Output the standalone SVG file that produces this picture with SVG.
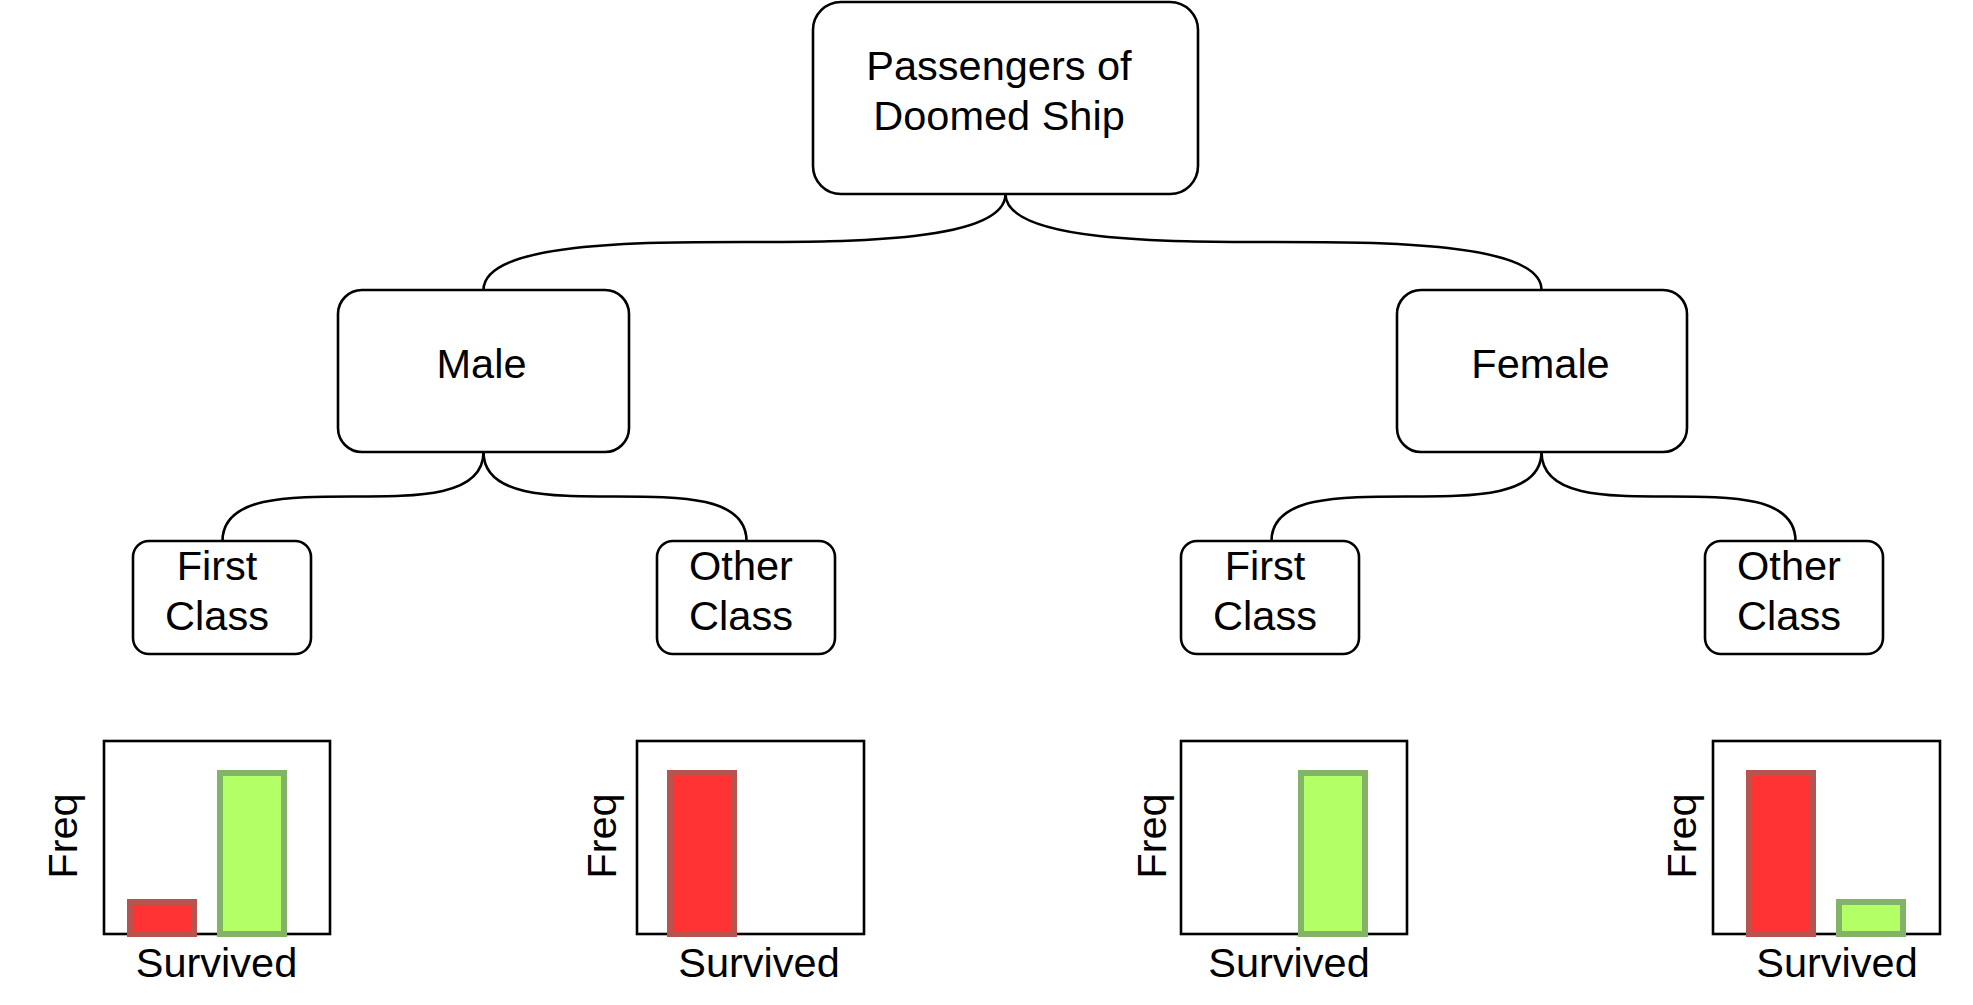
<svg xmlns="http://www.w3.org/2000/svg" width="1973" height="1005" viewBox="0 0 1973 1005">
<style>
.node{fill:#fff;stroke:#000;stroke-width:2.6}
.lbl{font-family:"Liberation Sans",Arial,Helvetica,sans-serif;font-size:41.5px;fill:#000;text-anchor:middle}
.edge{fill:none;stroke:#000;stroke-width:2.6}
.chart{fill:#fff;stroke:#000;stroke-width:2.6}
.red{fill:#FF3333;stroke:#B85450;stroke-width:6}
.green{fill:#B3FF66;stroke:#82B366;stroke-width:6}
</style>
<rect width="1973" height="1005" fill="#fff"/>
<g id="connectors">
<path class="edge" d="M1005.5,194 C1005.5,242 849,242 744.5,242 C640,242 483.5,242 483.5,290"/>
<path class="edge" d="M1005.5,194 C1005.5,242 1166,242 1273.5,242 C1381,242 1541.5,242 1541.5,290"/>
<path class="edge" d="M483.5,452 C483.5,496.5 418.25,496.5 353,496.5 C287.75,496.5 222.5,496.5 222.5,541"/>
<path class="edge" d="M483.5,452 C483.5,496.5 549.25,496.5 615,496.5 C680.75,496.5 746.5,496.5 746.5,541"/>
<path class="edge" d="M1541.5,452 C1541.5,496.5 1474,496.5 1406.5,496.5 C1339,496.5 1271.5,496.5 1271.5,541"/>
<path class="edge" d="M1541.5,452 C1541.5,496.5 1605,496.5 1668.5,496.5 C1732,496.5 1795.5,496.5 1795.5,541"/>
</g>
<g id="root">
<rect class="node" x="813" y="2" width="385" height="192" rx="28"/>
<text class="lbl" x="999" y="80">Passengers of</text>
<text class="lbl" x="999" y="130">Doomed Ship</text>
</g>
<g id="male">
<rect class="node" x="338" y="290" width="291" height="162" rx="24"/>
<text class="lbl" x="481.5" y="378">Male</text>
</g>
<g id="female">
<rect class="node" x="1397" y="290" width="290" height="162" rx="24"/>
<text class="lbl" x="1540.5" y="378">Female</text>
</g>
<g id="male-first">
<rect class="node" x="133" y="541" width="178" height="113" rx="16"/>
<text class="lbl" x="217" y="580">First</text>
<text class="lbl" x="217" y="630">Class</text>
</g>
<g id="male-other">
<rect class="node" x="657" y="541" width="178" height="113" rx="16"/>
<text class="lbl" x="741" y="580">Other</text>
<text class="lbl" x="741" y="630">Class</text>
</g>
<g id="female-first">
<rect class="node" x="1181" y="541" width="178" height="113" rx="16"/>
<text class="lbl" x="1265" y="580">First</text>
<text class="lbl" x="1265" y="630">Class</text>
</g>
<g id="female-other">
<rect class="node" x="1705" y="541" width="178" height="113" rx="16"/>
<text class="lbl" x="1789" y="580">Other</text>
<text class="lbl" x="1789" y="630">Class</text>
</g>
<g id="chart-male-first">
<rect class="chart" x="104" y="741" width="226" height="193"/>
<rect class="red" x="130" y="902" width="64" height="32"/>
<rect class="green" x="220" y="773" width="64" height="161"/>
<text class="lbl" x="216.5" y="976.5">Survived</text>
<text class="lbl" transform="translate(77,836) rotate(-90)">Freq</text>
</g>
<g id="chart-male-other">
<rect class="chart" x="637" y="741" width="227" height="193"/>
<rect class="red" x="670" y="773" width="64" height="161"/>
<text class="lbl" x="759" y="976.5">Survived</text>
<text class="lbl" transform="translate(616,836) rotate(-90)">Freq</text>
</g>
<g id="chart-female-first">
<rect class="chart" x="1181" y="741" width="226" height="193"/>
<rect class="green" x="1301" y="773" width="64" height="161"/>
<text class="lbl" x="1289" y="976.5">Survived</text>
<text class="lbl" transform="translate(1166,836) rotate(-90)">Freq</text>
</g>
<g id="chart-female-other">
<rect class="chart" x="1713" y="741" width="227" height="193"/>
<rect class="red" x="1749" y="773" width="64" height="161"/>
<rect class="green" x="1839" y="902" width="64" height="32"/>
<text class="lbl" x="1837" y="976.5">Survived</text>
<text class="lbl" transform="translate(1696,836) rotate(-90)">Freq</text>
</g>
</svg>
